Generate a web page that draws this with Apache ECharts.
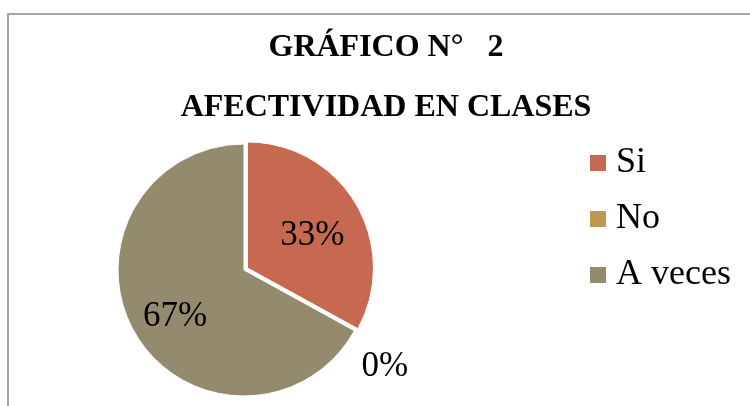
<!DOCTYPE html>
<html>
<head>
<meta charset="utf-8">
<script src="https://cdn.jsdelivr.net/npm/echarts@6/dist/echarts.min.js"></script>
<style>
  html, body { margin: 0; padding: 0; background: #fff; }
  #chart { width: 750px; height: 406px; }
</style>
</head>
<body>
<div id="chart"></div>
<script>
const categories = ['Si', 'No', 'A veces']
const values = [33, 0, 67]
const colors = ['#C76850', '#C0974F', '#948B6F']

const serif = '"Liberation Serif", "Times New Roman", serif'
// nudge labels to where Excel put them
const labelShift = [[8, 1], [-11, 29], [-12, 13]]

const chart = echarts.init(document.getElementById('chart'))

const data = categories.map((name, i) => {
  const item = { name: name, value: values[i], itemStyle: { color: colors[i] } }
  if (name === 'Si') item.selected = true
  if (values[i] === 0) {
    item.label = { position: 'outside' }
    item.labelLine = { show: false, length: 15, length2: 0 }
  }
  return item
})

chart.setOption({
  animation: false,
  graphic: [{
    type: 'rect',
    shape: { x: 8, y: 14, width: 800, height: 500 },
    style: { fill: 'none', stroke: '#A6A6A6', lineWidth: 2 },
    silent: true
  }],
  title: [{
    text: 'GRÁFICO N°   2',
    left: 381, top: 27, textAlign: 'center',
    textStyle: { fontFamily: serif, fontWeight: 'bold', fontSize: 32, color: '#000' }
  }, {
    text: 'AFECTIVIDAD EN CLASES',
    left: 381, top: 87, textAlign: 'center',
    textStyle: { fontFamily: serif, fontWeight: 'bold', fontSize: 32, color: '#000' }
  }],
  legend: {
    orient: 'vertical',
    left: 583, top: 140,
    itemWidth: 18, itemHeight: 18, itemGap: 20,
    icon: 'rect',
    selectedMode: false,
    data: categories,
    textStyle: { fontFamily: serif, fontSize: 36, lineHeight: 36, color: '#000', padding: [0, 0, 0, 4] }
  },
  series: [{
    type: 'pie',
    center: [244, 270],
    radius: 126,
    startAngle: 90,
    clockwise: true,
    selectedMode: 'single',
    selectedOffset: 4,
    avoidLabelOverlap: false,
    itemStyle: { borderColor: '#fff', borderWidth: 1 },
    emphasis: { disabled: true },
    label: {
      position: 'inside',
      formatter: p => Math.round(p.percent) + '%',
      fontFamily: serif, fontSize: 35, color: '#000'
    },
    labelLine: { show: false },
    labelLayout: p => ({ dx: labelShift[p.dataIndex][0], dy: labelShift[p.dataIndex][1] }),
    data: data
  }]
})
</script>
</body>
</html>
